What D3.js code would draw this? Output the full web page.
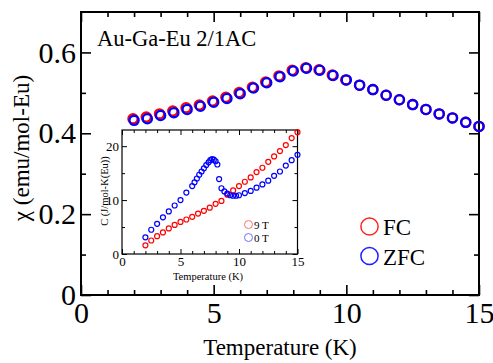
<!DOCTYPE html>
<html>
<head>
<meta charset="utf-8">
<script src="https://cdn.jsdelivr.net/npm/d3@7/dist/d3.min.js"></script>
<style>
  body { margin: 0; background: #fff; }
  svg text { font-family: "Liberation Serif", "Times New Roman", serif; fill: #000; }
</style>
</head>
<body>
<svg id="chart" width="493" height="363"></svg>
<script>
// main panel: susceptibility
const chiTempZFC = [2, 2.5, 3, 3.5, 4, 4.5, 5, 5.5, 6, 6.5, 7, 7.5, 8, 8.5, 9, 9.5, 10, 10.5, 11, 11.5, 12, 12.5, 13, 13.5, 14, 14.5, 15];
const chiZFC = [0.432, 0.436, 0.444, 0.451, 0.459, 0.467, 0.477, 0.486, 0.498, 0.512, 0.525, 0.540, 0.554, 0.561, 0.556, 0.543, 0.532, 0.519, 0.508, 0.494, 0.483, 0.471, 0.459, 0.448, 0.438, 0.427, 0.417];
const chiTempFC = [1.96, 2.46, 2.96, 3.46, 3.96, 4.46, 4.96, 5.46, 5.96, 6.46, 6.96, 7.46, 7.96, 8.47, 8.97, 9.47, 9.98, 10.5, 11, 11.5, 12, 12.5, 13, 13.5, 14, 14.5, 15];
const chiFC = [0.436, 0.440, 0.448, 0.455, 0.463, 0.470, 0.480, 0.489, 0.501, 0.514, 0.527, 0.542, 0.556, 0.562, 0.557, 0.544, 0.532, 0.519, 0.508, 0.494, 0.483, 0.471, 0.459, 0.448, 0.438, 0.427, 0.417];

// inset: specific heat
const heatTemp9T = [2, 2.5, 3, 3.5, 4, 4.5, 5, 5.5, 6, 6.5, 7, 7.5, 8, 8.5, 9, 9.5, 10, 10.5, 11, 11.5, 12, 12.5, 13, 13.5, 14, 14.5, 15];
const heat9T = [1.6, 2.5, 3.3, 4.0, 4.75, 5.4, 5.95, 6.4, 6.9, 7.5, 8.0, 8.6, 9.3, 9.85, 11.0, 11.8, 12.6, 13.4, 14.2, 15.2, 16.0, 17.1, 18.1, 19.1, 20.2, 21.5, 22.6];
const heatTemp0T = [2, 2.5, 3, 3.5, 4, 4.5, 5, 5.5, 6, 6.2, 6.4, 6.6, 6.8, 7.0, 7.2, 7.4, 7.55, 7.7, 7.85, 8.0, 8.15, 8.3, 8.5, 8.75, 9.0, 9.25, 9.5, 9.75, 10.0, 10.5, 11, 11.5, 12, 12.5, 13, 13.5, 14, 14.5, 15];
const heat0T = [3.1, 4.5, 5.6, 6.8, 7.9, 9.0, 10.0, 11.4, 12.6, 13.3, 14.0, 14.7, 15.3, 15.9, 16.5, 17.0, 17.4, 17.6, 17.5, 17.2, 16.6, 13.9, 12.2, 11.6, 11.2, 10.9, 10.8, 10.8, 10.9, 11.3, 11.7, 12.3, 12.9, 13.6, 14.5, 15.3, 16.4, 17.4, 18.4];

const xTicks = [0, 5, 10, 15];
const xTickLabels = ['0', '5', '10', '15'];
const xMinor = [1, 2, 3, 4, 6, 7, 8, 9, 11, 12, 13, 14];
const yTicks = [0, 0.2, 0.4, 0.6];
const yTickLabels = ['0', '0.2', '0.4', '0.6'];
const yMinor = [0.1, 0.3, 0.5];
const insetYTicks = [0, 10, 20];
const insetYTickLabels = ['0', '10', '20'];
const insetYMinor = [5, 15];
const legendMain = ['FC', 'ZFC'];
const legendInset = ['9 T', '0 T'];

const svg = d3.select('#chart');
const serif = '"Liberation Serif", "Times New Roman", serif';

// frame with inward ticks on all four sides
function frame(x, y, opt) {
  const [x0, x1] = x.range();
  const [y0, y1] = y.range();
  const g = svg.append('g');
  const sides = [
    [d3.axisBottom(x), `translate(0,${y0})`, opt.xMaj, opt.xMin, true],
    [d3.axisTop(x), `translate(0,${y1})`, opt.xMaj, opt.xMin, false],
    [d3.axisLeft(y), `translate(${x0},0)`, opt.yMaj, opt.yMin, true],
    [d3.axisRight(y), `translate(${x1},0)`, opt.yMaj, opt.yMin, false]
  ];
  sides.forEach(([ax, tr, maj, min, lab], i) => {
    const isX = i < 2;
    const labels = isX ? opt.xLabels : opt.yLabels;
    const a = g.append('g').attr('transform', tr)
      .call(ax.tickValues(maj).tickSizeInner(-opt.major).tickSizeOuter(0)
        .tickPadding(isX ? opt.padX : opt.padY)
        .tickFormat((d, j) => lab ? labels[j] : ''))
      .attr('font-family', serif).attr('font-size', opt.fontSize);
    a.select('.domain').remove();
    a.selectAll('line').attr('stroke', '#000').attr('stroke-width', opt.tickWidth);
    const b = g.append('g').attr('transform', tr)
      .call(ax.tickValues(min).tickSizeInner(-opt.minor).tickSizeOuter(0).tickFormat(''));
    b.select('.domain').remove();
    b.selectAll('line').attr('stroke', '#000').attr('stroke-width', opt.tickWidth);
  });
  g.append('rect')
    .attr('x', x0).attr('y', y1)
    .attr('width', x1 - x0).attr('height', y0 - y1)
    .attr('fill', 'none').attr('stroke', '#000').attr('stroke-width', opt.lineWidth);
  return g;
}

// ---- main panel
const x = d3.scaleLinear().domain([0, 15]).range([81, 479]);
const y = d3.scaleLinear().domain([0, 0.7]).range([295, 12]);

frame(x, y, {
  xMaj: xTicks, xMin: xMinor, yMaj: yTicks, yMin: yMinor,
  xLabels: xTickLabels, yLabels: yTickLabels,
  major: 10, minor: 5, padX: 7, padY: 5, fontSize: 30, tickWidth: 1.6, lineWidth: 2
});

svg.append('text')
  .attr('x', 280).attr('y', 355)
  .attr('text-anchor', 'middle').attr('font-size', 23)
  .text('Temperature (K)');

svg.append('text')
  .attr('transform', 'translate(29,148) rotate(-90)')
  .attr('text-anchor', 'middle').attr('font-size', 23)
  .text('χ (emu/mol-Eu)');

svg.append('text')
  .attr('x', 97).attr('y', 46)
  .attr('font-size', 22.5)
  .text('Au-Ga-Eu 2/1AC');

svg.append('g').selectAll('circle')
  .data(chiFC).enter().append('circle')
  .attr('cx', (d, i) => x(chiTempFC[i])).attr('cy', d => y(d))
  .attr('r', 4.6).attr('fill', 'none').attr('stroke', '#ff0000').attr('stroke-width', 2.3);

svg.append('g').selectAll('circle')
  .data(chiZFC).enter().append('circle')
  .attr('cx', (d, i) => x(chiTempZFC[i])).attr('cy', d => y(d))
  .attr('r', 4.6).attr('fill', 'none').attr('stroke', '#0000ff').attr('stroke-width', 2.3);

const legColors = ['#ff2020', '#2020ff'];
legendMain.forEach((name, i) => {
  const cy = 226.5 + i * 29.5;
  svg.append('circle').attr('cx', 369.5).attr('cy', cy).attr('r', 8.6)
    .attr('fill', 'none').attr('stroke', legColors[i]).attr('stroke-width', 1.5);
  svg.append('text').attr('x', 383).attr('y', cy + 8.5)
    .attr('font-size', 23).text(name);
});

// ---- inset
const xi = d3.scaleLinear().domain([0, 15]).range([122, 297.5]);
const yi = d3.scaleLinear().domain([0, 23]).range([254, 130]);

svg.append('rect')
  .attr('x', 122).attr('y', 130).attr('width', 175.5).attr('height', 124)
  .attr('fill', '#fff');

frame(xi, yi, {
  xMaj: xTicks, xMin: xMinor, yMaj: insetYTicks, yMin: insetYMinor,
  xLabels: xTickLabels, yLabels: insetYTickLabels,
  major: 5, minor: 3, padX: 3, padY: 3, fontSize: 13, tickWidth: 1, lineWidth: 1.2
});

svg.append('text')
  .attr('x', 208).attr('y', 280)
  .attr('text-anchor', 'middle').attr('font-size', 10.5).attr('fill', '#222')
  .text('Temperature (K)');

svg.append('text')
  .attr('transform', 'translate(108,191) rotate(-90)')
  .attr('text-anchor', 'middle').attr('font-size', 10.5).attr('fill', '#222')
  .text('C (J/mol-K(Eu))');

svg.append('g').selectAll('circle')
  .data(heat9T).enter().append('circle')
  .attr('cx', (d, i) => xi(heatTemp9T[i])).attr('cy', d => yi(d))
  .attr('r', 2.5).attr('fill', 'none').attr('stroke', '#ff0000').attr('stroke-width', 1.2);

svg.append('g').selectAll('circle')
  .data(heat0T).enter().append('circle')
  .attr('cx', (d, i) => xi(heatTemp0T[i])).attr('cy', d => yi(d))
  .attr('r', 2.5).attr('fill', 'none').attr('stroke', '#0000ff').attr('stroke-width', 1.2);

const insetLegColors = ['#ff7070', '#7070ff'];
legendInset.forEach((name, i) => {
  const cy = 224.5 + i * 13;
  svg.append('circle').attr('cx', 248.5).attr('cy', cy).attr('r', 4)
    .attr('fill', 'none').attr('stroke', insetLegColors[i]).attr('stroke-width', 1);
  svg.append('text').attr('x', 254).attr('y', cy + 4)
    .attr('font-size', 11).attr('fill', '#333').text(name);
});
</script>
</body>
</html>
